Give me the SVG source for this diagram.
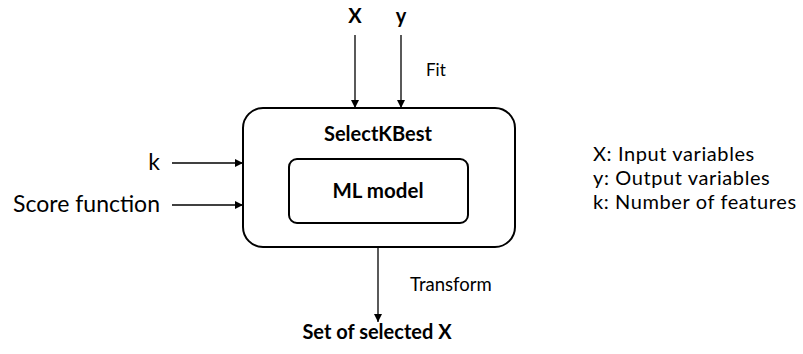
<svg xmlns="http://www.w3.org/2000/svg" width="803" height="354" viewBox="0 0 803 354">
  <style>
    text { font-family: Lato, "Open Sans", "Liberation Sans", sans-serif; fill: #000; }
    .b { font-weight: bold; }
    .box { fill: #fff; stroke: #000; stroke-width: 2; }
    .wire { stroke: #000; stroke-width: 1.3; fill: none; marker-end: url(#arrow); }
  </style>
  <defs>
    <marker id="arrow" viewBox="0 0 10 10" refX="10" refY="5" markerWidth="8" markerHeight="8" markerUnits="userSpaceOnUse" orient="auto">
      <path d="M0,0 L10,5 L0,10 z" fill="#000"/>
    </marker>
  </defs>
  <rect width="803" height="354" fill="#fff"/>

  <g id="selectkbest">
    <rect class="box" x="243" y="108" width="272" height="139" rx="20" ry="20"/>
    <text class="b" x="378" y="141" font-size="20" text-anchor="middle">SelectKBest</text>
  </g>
  <g id="ml-model">
    <rect class="box" x="289" y="159" width="179" height="64" rx="8" ry="8"/>
    <text class="b" x="378" y="198" font-size="20.5" text-anchor="middle">ML model</text>
  </g>

  <g id="input-x"><text class="b" x="355" y="23" font-size="20" text-anchor="middle">X</text></g>
  <g id="input-y"><text class="b" x="401" y="23" font-size="20" text-anchor="middle">y</text></g>
  <g id="input-k"><text x="160" y="170" font-size="23" text-anchor="end">k</text></g>
  <g id="input-score"><text x="160" y="212" font-size="23" text-anchor="end">Score function</text></g>
  <g id="output"><text class="b" x="377" y="339" font-size="20" text-anchor="middle">Set of selected X</text></g>

  <g id="connectors">
    <line class="wire" x1="355" y1="35" x2="355" y2="108"/>
    <line class="wire" x1="401" y1="35" x2="401" y2="108"/>
    <line class="wire" x1="172" y1="163" x2="243" y2="163"/>
    <line class="wire" x1="172" y1="205" x2="243" y2="205"/>
    <line class="wire" x1="378" y1="247" x2="378" y2="322"/>
    <text x="426" y="76" font-size="17">Fit</text>
    <text x="410" y="291" font-size="18.5">Transform</text>
  </g>

  <g id="legend" font-size="20" letter-spacing="0.6">
    <text x="593" y="161">X: Input variables</text>
    <text x="593" y="185">y: Output variables</text>
    <text x="593" y="209">k: Number of features</text>
  </g>
</svg>
